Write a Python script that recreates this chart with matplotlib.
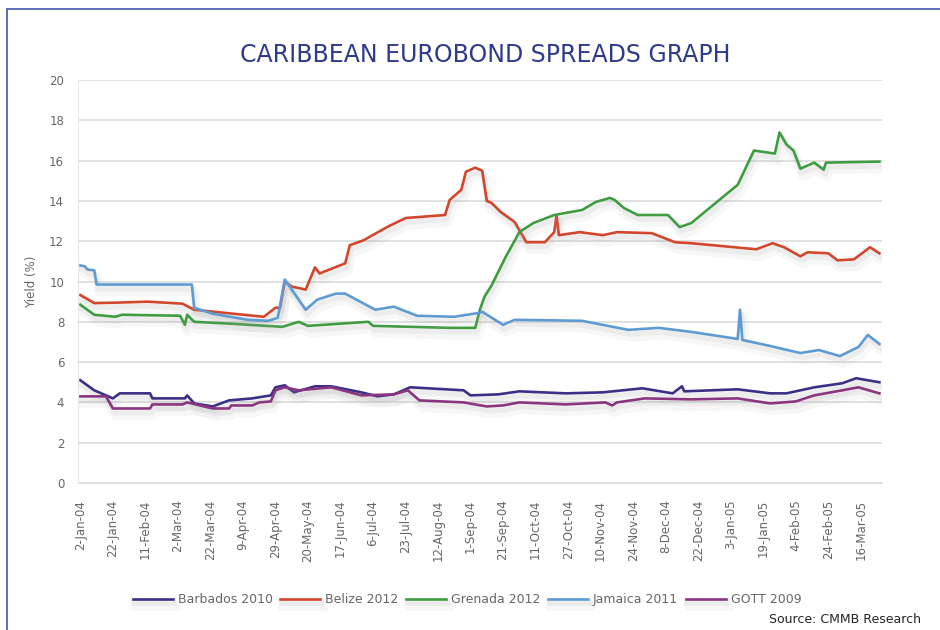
import matplotlib
matplotlib.use("Agg")
import matplotlib.pyplot as plt
import matplotlib.patheffects as pe
from matplotlib.lines import Line2D

# trading-day index (0 = 2-Jan-04) and yield (%) for each bond
barbados_x = [0, 6, 14, 17, 30, 31, 45, 46, 49, 57, 64, 74, 82, 84, 88, 92, 101, 108, 121, 128,
              135, 142, 165, 168, 180, 189, 209, 225, 242, 255, 259, 260, 283, 297, 304, 316,
              328, 334, 344]
barbados_y = [5.1, 4.6, 4.2, 4.45, 4.45, 4.2, 4.2, 4.35, 3.95, 3.8, 4.1, 4.2, 4.35, 4.75, 4.85,
              4.5, 4.8, 4.8, 4.5, 4.3, 4.4, 4.75, 4.6, 4.35, 4.4, 4.55, 4.45, 4.5, 4.7, 4.45,
              4.8, 4.55, 4.65, 4.45, 4.45, 4.75, 4.95, 5.2, 5.0]

belize_x = [0, 6, 15, 29, 44, 49, 66, 79, 84, 86, 88, 91, 97, 101, 103, 114, 116, 122, 132, 140,
            157, 159, 164, 166, 170, 173, 175, 177, 181, 187, 192, 200, 204, 205, 206, 215, 225,
            231, 246, 256, 263, 291, 298, 303, 310, 313, 322, 326, 333, 340, 344]
belize_y = [9.33, 8.93, 8.95, 9.0, 8.9, 8.6, 8.4, 8.25, 8.7, 8.7, 10.0, 9.75, 9.6, 10.7, 10.4,
            10.9, 11.8, 12.05, 12.7, 13.15, 13.3, 14.05, 14.55, 15.45, 15.65, 15.5, 14.0, 13.9,
            13.45, 12.95, 11.95, 11.95, 12.45, 13.3, 12.3, 12.45, 12.3, 12.45, 12.4, 11.95, 11.9,
            11.6, 11.9, 11.7, 11.25, 11.45, 11.4, 11.05, 11.1, 11.7, 11.4]

grenada_x = [0, 6, 15, 18, 43, 45, 46, 49, 66, 87, 94, 98, 124, 126, 159, 170, 172, 174, 177,
             183, 189, 195, 204, 216, 222, 228, 230, 234, 240, 253, 258, 263, 283, 290, 299, 301,
             304, 307, 310, 316, 320, 321, 344]
grenada_y = [8.85, 8.35, 8.25, 8.35, 8.3, 7.85, 8.35, 8.0, 7.9, 7.75, 8.0, 7.8, 8.0, 7.8, 7.7,
             7.7, 8.6, 9.25, 9.8, 11.2, 12.45, 12.9, 13.3, 13.55, 13.95, 14.15, 14.05, 13.65,
             13.3, 13.3, 12.7, 12.9, 14.8, 16.5, 16.35, 17.4, 16.8, 16.5, 15.6, 15.9, 15.55,
             15.9, 15.95]

jamaica_x = [0, 2, 3, 6, 7, 48, 49, 57, 72, 81, 85, 88, 97, 102, 110, 114, 127, 135, 145, 161,
             172, 173, 182, 187, 216, 236, 249, 263, 283, 284, 285, 297, 310, 318, 327, 335, 339,
             344]
jamaica_y = [10.8, 10.75, 10.6, 10.55, 9.85, 9.85, 8.7, 8.4, 8.1, 8.05, 8.2, 10.1, 8.6, 9.1,
             9.4, 9.4, 8.6, 8.75, 8.3, 8.25, 8.45, 8.5, 7.85, 8.1, 8.05, 7.6, 7.7, 7.5, 7.15,
             8.6, 7.1, 6.8, 6.45, 6.6, 6.3, 6.75, 7.35, 6.9]

gott_x = [0, 11, 14, 30, 31, 44, 46, 57, 64, 65, 74, 77, 82, 84, 88, 94, 108, 121, 135, 141, 146,
          165, 175, 182, 189, 209, 226, 229, 231, 243, 263, 283, 297, 308, 316, 328, 335, 344]
gott_y = [4.3, 4.3, 3.7, 3.7, 3.9, 3.9, 4.0, 3.7, 3.7, 3.85, 3.85, 4.0, 4.05, 4.6, 4.75, 4.6,
          4.75, 4.35, 4.4, 4.6, 4.1, 4.0, 3.8, 3.85, 4.0, 3.9, 4.0, 3.85, 4.0, 4.2, 4.15, 4.2,
          3.95, 4.05, 4.35, 4.6, 4.75, 4.45]

tick_pos = list(range(0, 337, 14))
tick_labels = ['2-Jan-04', '22-Jan-04', '11-Feb-04', '2-Mar-04', '22-Mar-04', '9-Apr-04',
               '29-Apr-04', '20-May-04', '17-Jun-04', '6-Jul-04', '23-Jul-04', '12-Aug-04',
               '1-Sep-04', '21-Sep-04', '11-Oct-04', '27-Oct-04', '10-Nov-04', '24-Nov-04',
               '8-Dec-04', '22-Dec-04', '3-Jan-05', '19-Jan-05', '4-Feb-05', '24-Feb-05',
               '16-Mar-05']

series = [
    ('Barbados 2010', barbados_x, barbados_y, '#3a3186'),
    ('Belize 2012', belize_x, belize_y, '#d2472b'),
    ('Grenada 2012', grenada_x, grenada_y, '#3f9c42'),
    ('Jamaica 2011', jamaica_x, jamaica_y, '#5e9bd3'),
    ('GOTT 2009', gott_x, gott_y, '#8a357f'),
]

fig = plt.figure(figsize=(9.4, 6.3), dpi=100)
ax = fig.add_axes([0.083, 0.2333, 0.855, 0.6397])

# soft drop shadow under each line
shadow = [pe.SimpleLineShadow(offset=(2, -5), shadow_color='#a0a0a0', alpha=0.08, linewidth=7),
          pe.SimpleLineShadow(offset=(1, -3), shadow_color='#a0a0a0', alpha=0.12, linewidth=4),
          pe.Normal()]

for name, xs, ys, col in series:
    ax.plot(xs, ys, color=col, lw=1.9, label=name, solid_joinstyle='round',
            path_effects=shadow)

ax.set_xlim(-1, 345)
ax.set_ylim(0, 20)
ax.set_yticks(range(0, 21, 2))
ax.set_xticks(tick_pos)
ax.set_xticklabels(tick_labels, rotation=90, fontsize=8.5, color='#555555')
ax.tick_params(axis='both', length=0, labelsize=8.5, labelcolor='#666666')
ax.tick_params(axis='x', pad=12)
ax.tick_params(axis='y', pad=10)
ax.grid(axis='y', color='#dcdcdc', lw=1.2)
ax.set_axisbelow(True)
for s in ['top', 'right']:
    ax.spines[s].set_visible(False)
ax.spines['left'].set_color('#e6e6e6')
ax.spines['bottom'].set_color('#dcdcdc')
ax.set_ylabel('Yield (%)', fontsize=8.5, color='#666666', labelpad=8)

fig.text(0.516, 0.913, 'CARIBBEAN EUROBOND SPREADS GRAPH', ha='center', va='center',
         fontsize=17, color='#2e3b8c')

fig.legend(loc='center', bbox_to_anchor=(0.497, 0.048), ncol=5, frameon=False,
           handlelength=3.2, handletextpad=0.4, columnspacing=0.6, fontsize=9,
           labelcolor='#666666')

fig.text(0.818, 0.017, 'Source: CMMB Research', fontsize=9, color='#222222', va='center')

# page border
fig.add_artist(Line2D([0.0075, 1.0], [0.986, 0.986], transform=fig.transFigure,
                      color='#5a6db4', lw=1.4))
fig.add_artist(Line2D([0.0075, 0.0075], [0.0, 0.986], transform=fig.transFigure,
                      color='#5a6db4', lw=1.4))

fig.savefig('out.png', dpi=100)
